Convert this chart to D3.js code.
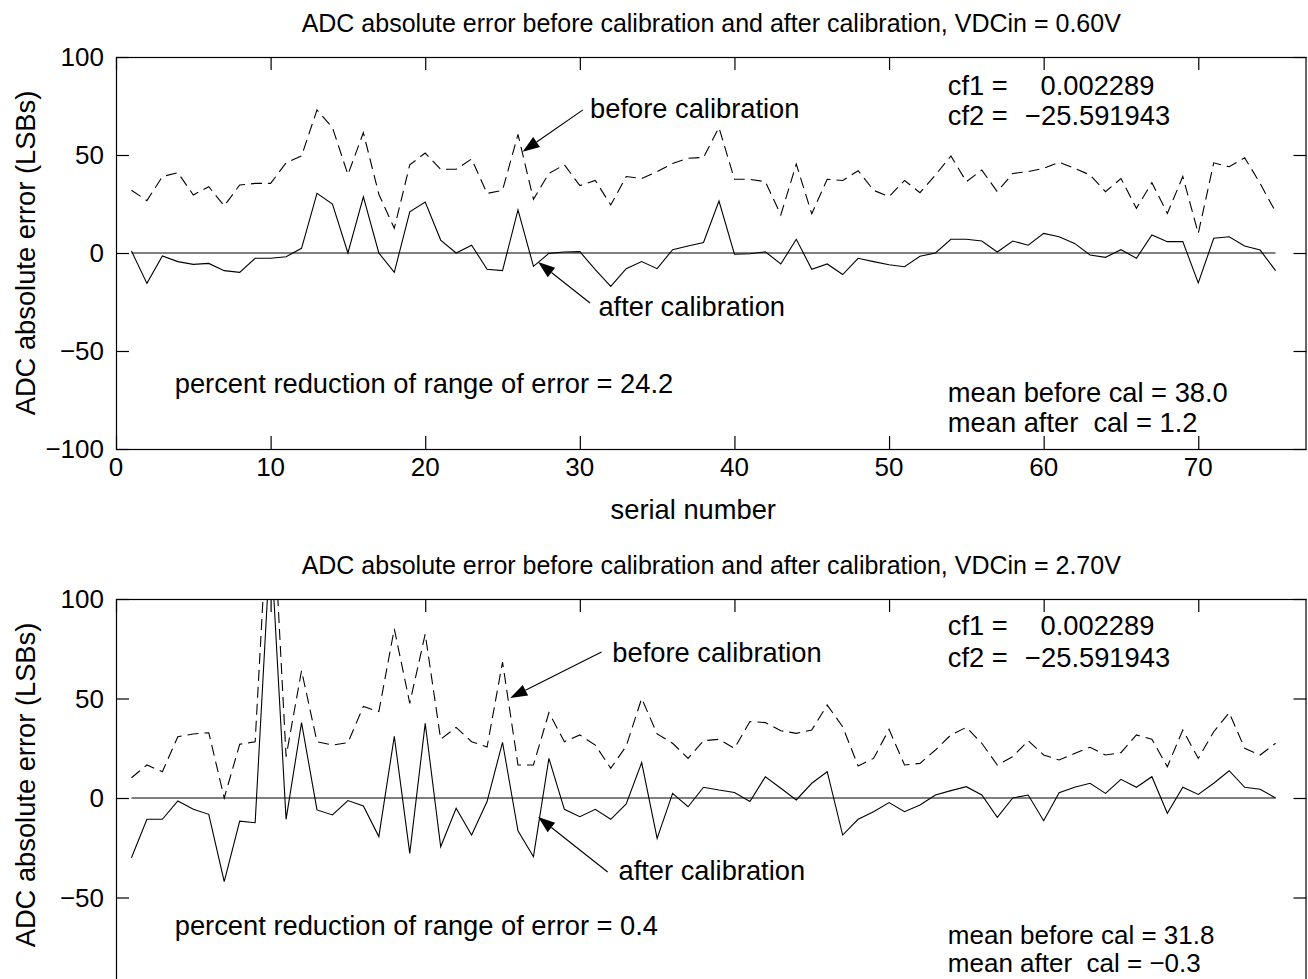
<!DOCTYPE html>
<html>
<head>
<meta charset="utf-8">
<script src="https://cdn.jsdelivr.net/npm/d3@7"></script>
<style>
  html, body { margin: 0; padding: 0; background: #fff; }
  svg { display: block; }
  text { font-family: "Liberation Sans", Arial, Helvetica, sans-serif; fill: #000; }
</style>
</head>
<body>
<svg id="chart" width="1308" height="979"></svg>
<script>
// ---------------- data ----------------
const serialNumbers = [1,2,3,4,5,6,7,8,9,10,11,12,13,14,15,16,17,18,19,20,21,22,23,24,25,
  26,27,28,29,30,31,32,33,34,35,36,37,38,39,40,41,42,43,44,45,46,47,48,49,50,
  51,52,53,54,55,56,57,58,59,60,61,62,63,64,65,66,67,68,69,70,71,72,73,74,75];

const before060 = [32, 26.7, 39, 41, 29.6, 33.8, 24, 34.7, 35.5, 35.5,
  46, 49.5, 73, 64, 40, 61.4, 30, 12.6, 45, 51,
  42.7, 42.7, 48, 30.4, 32, 60.5, 27.4, 40.6, 45, 34.4,
  37, 24.5, 39, 38, 41.5, 45.7, 48.3, 48.8, 64, 37.6,
  37.6, 36.4, 19.4, 45.4, 20, 37.6, 37, 42, 32, 28.7,
  37, 30.8, 39.8, 49.5, 36.4, 42.3, 31.3, 40.6, 41.5, 43.2,
  46.3, 43.2, 39.8, 31.3, 38, 22.8, 35.9, 20.2, 39, 10,
  46, 44, 48.6, 35.5, 21];

const after060 = [1, -15.5, -1.5, -4.4, -5.8, -5.3, -9, -9.9, -2.7, -2.7,
  -1.9, 2.4, 30.4, 25, 0, 28.7, 0, -9.9, 21, 26,
  6.6, 0, 4, -8.3, -9, 22, -6.8, -0.2, 0.5, 0.7,
  -8.5, -17, -8, -4.4, -8, 1.7, 3.6, 5.4, 26.5, -0.6,
  -0.4, 0.6, -5.6, 7, -8.3, -5.6, -11, -2.7, -4.4, -6,
  -7, -1.7, 0, 7, 7, 6.1, 0.5, 6.1, 4, 10,
  8.3, 4.9, -1, -2.2, 1.7, -2.7, 9.2, 5.8, 5.8, -15.3,
  7.5, 8.3, 3.6, 1.5, -9];

const before270 = [10.2, 16.6, 13.2, 30.8, 32.2, 32.8, 0, 27, 28.3, 170,
  20.8, 64, 28.3, 26.6, 27.8, 46, 43.4, 85, 47.6, 82.4,
  29.5, 35.5, 28.3, 25.6, 68.3, 16.6, 16.6, 42.9, 28.3, 31.7,
  26.6, 14.9, 26.1, 50, 32.2, 27.5, 19.9, 28.8, 29.5, 25,
  38.4, 37.9, 33.8, 32.5, 34.2, 46.7, 35.8, 16.1, 19.9, 34.5,
  16.6, 17.4, 24.1, 31.7, 35.5, 27.5, 16.6, 20.8, 28.8, 21.6,
  19.1, 22.4, 25.5, 21.6, 22.8, 31.7, 29.5, 15.7, 34.2, 19.9,
  33.3, 42.9, 25, 21.6, 27.5];

const after270 = [-30, -10.7, -10.7, -1.5, -5.7, -8.2, -42, -11.6, -12.4, 130,
  -10.7, 37.9, -6, -8.5, -1.3, -4, -19.4, 31, -27.8, 37.5,
  -24.5, -5.2, -18.6, -1.8, 28, -16.5, -29.5, 19.9, -5.7, -9.4,
  -5.7, -10.7, -3, 17.8, -20.3, 2.3, -4.4, 5.4, 4, 2.8,
  -1.8, 10.7, 4.9, -1, 7.4, 13.2, -18.6, -10.7, -6.9, -2.3,
  -6.9, -3.5, 1.5, 3.7, 5.7, 1.5, -9.7, 0, 1.5, -11.4,
  2.7, 5.4, 7.4, 2.3, 9.4, 5.4, 10.7, -7.7, 5.4, 1.8,
  7.4, 13.7, 5.4, 4.4, 0];

const xTicks = [0, 10, 20, 30, 40, 50, 60, 70];
const yTicks = [-100, -50, 0, 50, 100];
const zeroLineX = [1, 75];

const titles = [
  "ADC absolute error before calibration and after calibration, VDCin = 0.60V",
  "ADC absolute error before calibration and after calibration, VDCin = 2.70V"
];
const yLabel = "ADC absolute error (LSBs)";
const xLabel = "serial number";
const cfLabels = ["cf1 =", "cf2 ="];
const cfValues = ["0.002289", "\u221225.591943"];
const percentText = ["percent reduction of range of error = 24.2", "percent reduction of range of error = 0.4"];
const meanBefore = ["mean before cal = 38.0", "mean before cal = 31.8"];
const meanAfter = ["mean after\u00a0\u00a0cal = 1.2", "mean after\u00a0\u00a0cal = \u22120.3"];

// annotation anchor positions in data units [x, y]
const annTop = {
  beforeText: [30.66, 68.9], beforeTail: [30.2, 73], beforeTip: [26.3, 51.7],
  afterText: [31.2, -32], afterTail: [30.66, -25.5], afterTip: [27.3, -4.6],
  percent: [3.8, -71.4], cf1: [53.8, 80.6], cf2: [53.8, 65.3], cf1v: 59.8, cf2v: 58.8,
  mean1: [53.8, -76], mean2: [53.8, -91.3], meanFs: 27.3
};
const annBot = {
  beforeText: [32.1, 68.3], beforeTail: [31.4, 73.4], beforeTip: [25.5, 50.3],
  afterText: [32.5, -41.2], afterTail: [31.8, -37.2], afterTip: [27.3, -9.5],
  percent: [3.8, -68.8], cf1: [53.8, 81.9], cf2: [53.8, 65.8], cf1v: 59.8, cf2v: 58.8,
  mean1: [53.8, -73.2], mean2: [53.8, -87.4], meanFs: 26
};

// ---------------- drawing ----------------
const svg = d3.select("#chart");
const H = 979;
svg.append("rect").attr("width", 1308).attr("height", H).attr("fill", "#fff");

const FS_TITLE = 25, FS_TICK = 26, FS_TEXT = 27.3;
const xLeft = 116, xRight = 1306.5;

function fmtTick(d) { return d < 0 ? "\u2212" + Math.abs(d) : String(d); }

function drawPanel(idx, top, bottom, labelCenter, before, after, ann, showXLabels) {
  const x = d3.scaleLinear().domain([0, 77]).range([xLeft, xRight]);
  const y = d3.scaleLinear().domain([-100, 100]).range([bottom, top]);
  const g = svg.append("g");

  const clipId = "clip" + idx;
  svg.append("clipPath").attr("id", clipId)
    .append("rect").attr("x", xLeft).attr("y", top).attr("width", xRight - xLeft).attr("height", bottom - top);

  // axes box
  g.append("rect").attr("x", xLeft + 0.5).attr("y", top + 0.5)
    .attr("width", xRight - xLeft - 1).attr("height", bottom - top)
    .attr("fill", "none").attr("stroke", "#000").attr("stroke-width", 1.2);

  // inward ticks via d3 axes
  const tickLen = 13;
  const axB = g.append("g").attr("transform", `translate(0,${bottom})`)
    .call(d3.axisTop(x).tickValues(xTicks).tickSize(tickLen).tickFormat(""));
  const axT = g.append("g").attr("transform", `translate(0,${top})`)
    .call(d3.axisBottom(x).tickValues(xTicks).tickSize(tickLen).tickFormat(""));
  const axL = g.append("g").attr("transform", `translate(${xLeft},0)`)
    .call(d3.axisRight(y).tickValues(yTicks).tickSize(tickLen).tickFormat(""));
  const axR = g.append("g").attr("transform", `translate(${xRight},0)`)
    .call(d3.axisLeft(y).tickValues(yTicks).tickSize(tickLen).tickFormat(""));
  [axB, axT, axL, axR].forEach(a => {
    a.select(".domain").remove();
    a.selectAll("line").attr("stroke", "#000").attr("stroke-width", 1.2);
  });

  // y tick labels (only those inside the visible page)
  g.selectAll(".ylab").data(yTicks.filter(d => y(d) + 9 < H)).enter().append("text")
    .attr("x", xLeft - 12).attr("y", d => y(d) + 9)
    .attr("text-anchor", "end").attr("font-size", FS_TICK)
    .text(fmtTick);

  if (showXLabels) {
    g.selectAll(".xlab").data(xTicks).enter().append("text")
      .attr("x", d => x(d)).attr("y", bottom + 27)
      .attr("text-anchor", "middle").attr("font-size", FS_TICK)
      .text(fmtTick);
    g.append("text").attr("x", (xLeft + xRight) / 2 - 18).attr("y", bottom + 70)
      .attr("text-anchor", "middle").attr("font-size", FS_TEXT).text(xLabel);
  }

  // title
  g.append("text").attr("x", (xLeft + xRight) / 2).attr("y", top - 25)
    .attr("text-anchor", "middle").attr("font-size", FS_TITLE).text(titles[idx]);

  // y label
  g.append("text").attr("transform", `translate(35,${labelCenter}) rotate(-90)`)
    .attr("text-anchor", "middle").attr("font-size", FS_TEXT).text(yLabel);

  // data lines
  const plot = g.append("g").attr("clip-path", `url(#${clipId})`);
  const line = d3.line().x((d, i) => x(serialNumbers[i])).y(d => y(d));
  plot.append("path").datum(zeroLineX)
    .attr("d", d3.line().x(d => x(d)).y(() => y(0)))
    .attr("fill", "none").attr("stroke", "#000").attr("stroke-width", 1.2);
  plot.append("path").datum(before).attr("d", line)
    .attr("fill", "none").attr("stroke", "#000").attr("stroke-width", 1.1)
    .attr("stroke-dasharray", "11,6");
  plot.append("path").datum(after).attr("d", line)
    .attr("fill", "none").attr("stroke", "#000").attr("stroke-width", 1.1);

  // annotations
  function arrow(tail, tip) {
    const x1 = x(tail[0]), y1 = y(tail[1]), x2 = x(tip[0]), y2 = y(tip[1]);
    const ang = Math.atan2(y2 - y1, x2 - x1);
    const L = 17, W = 6;
    const bx = x2 - L * Math.cos(ang), by = y2 - L * Math.sin(ang);
    g.append("line").attr("x1", x1).attr("y1", y1).attr("x2", bx).attr("y2", by)
      .attr("stroke", "#000").attr("stroke-width", 1.1);
    const px = -Math.sin(ang) * W, py = Math.cos(ang) * W;
    g.append("path")
      .attr("d", `M${x2},${y2}L${bx + px},${by + py}L${bx - px},${by - py}Z`)
      .attr("fill", "#000");
  }
  function label(pos, txt, fs) {
    g.append("text").attr("x", x(pos[0])).attr("y", y(pos[1]))
      .attr("font-size", fs || FS_TEXT).style("white-space", "pre").text(txt);
  }
  label(ann.beforeText, "before calibration");
  arrow(ann.beforeTail, ann.beforeTip);
  label(ann.afterText, "after calibration");
  arrow(ann.afterTail, ann.afterTip);
  label(ann.percent, percentText[idx]);
  label(ann.cf1, cfLabels[0]);
  label([ann.cf1v, ann.cf1[1]], cfValues[0]);
  label(ann.cf2, cfLabels[1]);
  label([ann.cf2v, ann.cf2[1]], cfValues[1]);
  label(ann.mean1, meanBefore[idx], ann.meanFs);
  label(ann.mean2, meanAfter[idx], ann.meanFs);
}

drawPanel(0, 57, 449, 253, before060, after060, annTop, true);
drawPanel(1, 599, 997, 785, before270, after270, annBot, false);
</script>
</body>
</html>
